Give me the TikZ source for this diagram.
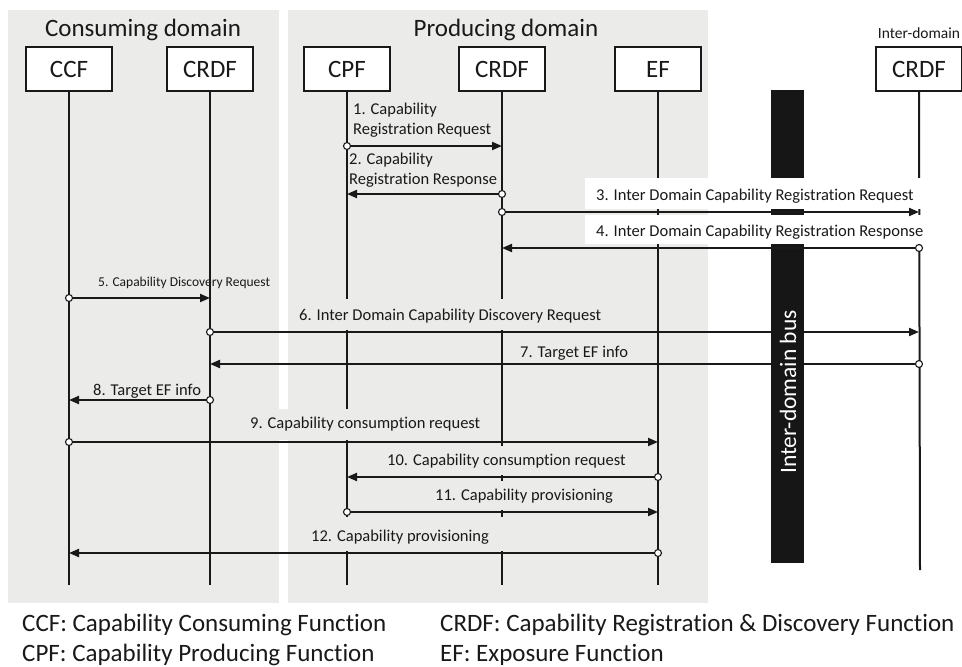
\documentclass[tikz,border=0pt]{standalone}
\usepackage{fontspec}
\setmainfont{Carlito}[Ligatures={NoCommon,NoRare,NoContextual}]
\usetikzlibrary{arrows.meta}
\definecolor{domaingrey}{RGB}{235,236,234}
\definecolor{busblack}{RGB}{22,22,22}
\definecolor{ink}{RGB}{25,25,25}

% one message: source node, target node, height, name of the source dot
\newcommand\sendmsg[4]{%
  \draw[msg] (#1 |- 0,#3) -- (#2 |- 0,#3);
  \node[srcdot] (#4) at (#1 |- 0,#3) {};}

\begin{document}
\begin{tikzpicture}[x=1pt,y=-1pt,
  entity/.style={draw=ink,line width=1.2pt,fill=white,minimum width=86pt,
    minimum height=44pt,inner sep=0pt,text=ink,font=\fontsize{25}{28}\selectfont},
  lifeline/.style={draw=ink,line width=2pt},
  msg/.style={draw=ink,line width=2pt,-{Triangle[length=10pt,width=8pt]}},
  lbl/.style={inner sep=0pt,anchor=west,text=ink,font=\fontsize{16.5}{20}\selectfont},
  mask/.style={fill=domaingrey},
  whitemask/.style={fill=white},
  srcdot/.style={circle,draw=ink,line width=1.1pt,fill=white,inner sep=0pt,minimum size=7pt},
  title/.style={text=ink,font=\fontsize{25}{28}\selectfont},
  legend/.style={anchor=west,inner sep=0pt,text=ink,font=\fontsize{25}{28}\selectfont},
]
\useasboundingbox (0,0) rectangle (962,667);

% domain backgrounds
\fill[domaingrey] (8,10) rectangle (279,603);
\fill[domaingrey] (288,10) rectangle (708,603);
\node[title] (tcons) at (143,30) {Consuming domain};
\node[title] (tprod) at (506,30) {Producing domain};

% inter-domain bus
\fill[busblack] (771,90) rectangle (804,563);

% entities
\node[entity] (ccf)   at (69,69)  {CCF};
\node[entity] (crdfc) at (210,69) {CRDF};
\node[entity] (cpf)   at (347,69) {CPF};
\node[entity] (crdfp) at (502,69) {CRDF};
\node[entity] (ef)    at (658,69) {EF};
\node[entity] (crdfi) at (919,69) {CRDF};
\node[text=ink,font=\fontsize{15.5}{18}\selectfont,anchor=south] (interlbl) at (919,42) {Inter-domain};

% lifelines
\coordinate (ccfend)   at (69,585);
\coordinate (crdfcend) at (210,585);
\coordinate (cpfend)   at (347,585);
\coordinate (crdfpend) at (502,585);
\coordinate (efend)    at (658,585);
\coordinate (crdfiend) at (920,570);
\draw[lifeline] (ccf.south)   -- (ccfend);
\draw[lifeline] (crdfc.south) -- (crdfcend);
\draw[lifeline] (cpf.south)   -- (cpfend);
\draw[lifeline] (crdfp.south) -- (crdfpend);
\draw[lifeline] (ef.south)    -- (efend);
\draw[lifeline] (crdfi.south) -- (crdfiend);

% label backgrounds
\fill[whitemask] (585,178) rectangle (935,209);
\fill[whitemask] (585,215) rectangle (935,244);
\fill[mask] (289,299) rectangle (620,330);
\fill[mask] (245,409) rectangle (492,440);
\fill[mask] (376,446) rectangle (642,475);
\fill[mask] (425,481) rectangle (625,510);
\fill[mask] (305,517) rectangle (502.6,551);

% message labels
\node[lbl,align=left,anchor=north west] (l1) at (353,103) {1. Capability\\Registration Request};
\node[lbl,align=left,anchor=north west] (l2) at (349,153) {2. Capability\\Registration Response};
\node[lbl] (l3) at (596,196) {3. Inter Domain Capability Registration Request};
\node[lbl] (l4) at (596,232) {4. Inter Domain Capability Registration Response};
\node[lbl,font=\fontsize{13.5}{16}\selectfont] (l5) at (98,283) {5. Capability Discovery Request};
\node[lbl] (l6) at (299,316) {6. Inter Domain Capability Discovery Request};
\node[lbl] (l7) at (520,353) {7. Target EF info};
\node[lbl] (l8) at (93,391) {8. Target EF info};
\node[lbl] (l9) at (250,424) {9. Capability consumption request};
\node[lbl] (l10) at (387,461) {10. Capability consumption request};
\node[lbl] (l11) at (435,496) {11. Capability provisioning};
\node[lbl] (l12) at (311,537) {12. Capability provisioning};

% messages
\sendmsg{cpf}{crdfp}{146}{s1}
\sendmsg{crdfp}{cpf}{194}{s2}
\sendmsg{crdfp}{crdfi}{212}{s3}
\sendmsg{crdfi}{crdfp}{248}{s4}
\sendmsg{ccf}{crdfc}{298}{s5}
\sendmsg{crdfc}{crdfi}{332}{s6}
\sendmsg{crdfi}{crdfc}{364}{s7}
\sendmsg{crdfc}{ccf}{400}{s8}
\sendmsg{ccf}{ef}{442}{s9}
\sendmsg{ef}{cpf}{477}{s10}
\sendmsg{cpf}{ef}{512}{s11}
\sendmsg{ef}{ccf}{553}{s12}

% bus caption, on top of the crossing messages
\fill[busblack] (771,250) rectangle (804,563);
\node[rotate=90,text=white,font=\fontsize{23.5}{26}\selectfont] (buslbl) at (788,392) {Inter-domain bus};

% legend
\node[legend] (g1) at (22,625) {CCF: Capability Consuming Function};
\node[legend] (g2) at (22,655) {CPF: Capability Producing Function};
\node[legend] (g3) at (440,625) {CRDF: Capability Registration \& Discovery Function};
\node[legend] (g4) at (440,655) {EF: Exposure Function};
\end{tikzpicture}
\end{document}
